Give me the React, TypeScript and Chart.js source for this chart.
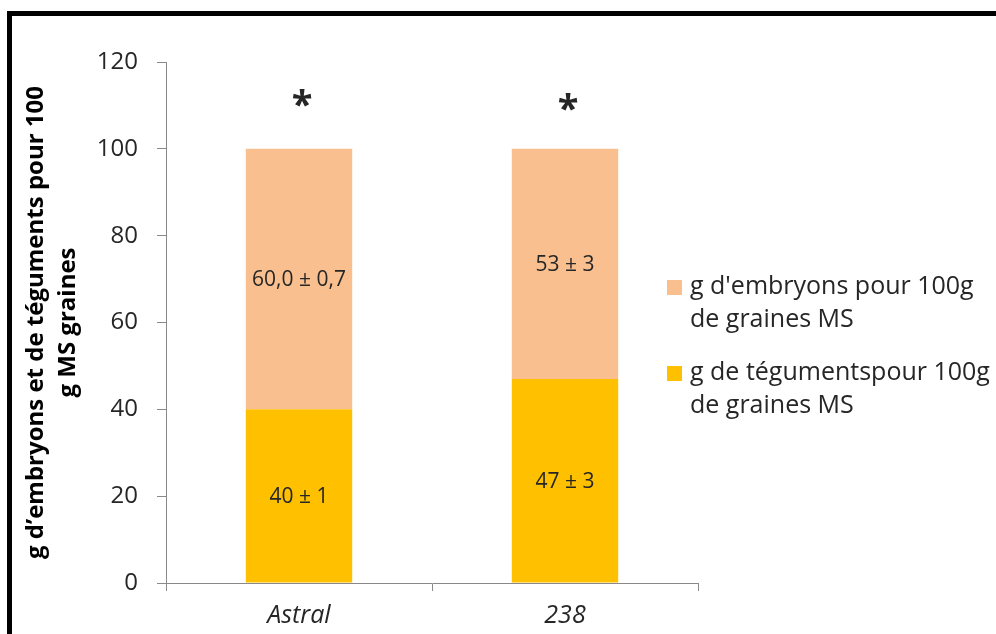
import React, { useEffect, useRef } from "react";
import { Chart, registerables } from "chart.js";

Chart.register(...registerables);

const categories = ["Astral", "238"];
const tegumentValues = [40, 47];
const embryonValues = [60, 53];
const tegumentLabels = ["40 ± 1", "47 ± 3"];
const embryonLabels = ["60,0 ± 0,7", "53 ± 3"];
const significance = ["*", "*"];
const significanceY = [111.7, 110.8];
const legendEmbryon = ["g d'embryons pour 100g", "de graines MS"];
const legendTegument = ["g de tégumentspour 100g", "de graines MS"];
const yTitleLines = ["g d’embryons et de téguments pour 100", "g MS graines"];
const yMin = 0;
const yMax = 120;
const yStep = 20;

const PEACH = "#F9BF8F";
const GOLD = "#FFC000";
const AXIS = "#898989";
const FONT = "'Open Sans', sans-serif";

const overlayPlugin = {
  id: "overlay",
  afterDraw(chart: any) {
    const ctx = chart.ctx as CanvasRenderingContext2D;
    const area = chart.chartArea;
    const yScale = chart.scales.y;
    ctx.save();

    // frame
    ctx.fillStyle = "#000";
    ctx.fillRect(7, 11, 996 - 7, 5);
    ctx.fillRect(7, 11, 5, 634 - 11);

    // value labels inside segments
    ctx.fillStyle = "#262626";
    ctx.font = `21px ${FONT}`;
    ctx.textAlign = "center";
    ctx.textBaseline = "middle";
    chart.data.datasets.forEach((ds: any, di: number) => {
      const meta = chart.getDatasetMeta(di);
      meta.data.forEach((el: any, i: number) => {
        const txt = ds.valueLabels[i];
        const cy = (el.y + el.base) / 2;
        ctx.fillText(txt, el.x, cy + 1);
      });
    });

    // significance stars
    ctx.font = `bold 38px ${FONT}`;
    ctx.textBaseline = "alphabetic";
    const meta0 = chart.getDatasetMeta(0);
    significance.forEach((s, i) => {
      const x = meta0.data[i].x;
      const y = yScale.getPixelForValue(significanceY[i]);
      const m = ctx.measureText(s);
      const off = (m.actualBoundingBoxAscent - m.actualBoundingBoxDescent) / 2;
      ctx.fillText(s, x + 3, y + off);
    });

    // y axis title
    ctx.font = `bold 24px ${FONT}`;
    ctx.fillStyle = "#000";
    ctx.textBaseline = "middle";
    const cy = (area.top + area.bottom) / 2;
    ctx.translate(0, cy);
    ctx.rotate(-Math.PI / 2);
    ctx.fillText(yTitleLines[0], 0, 36);
    ctx.fillText(yTitleLines[1], 0, 68);
    ctx.setTransform(1, 0, 0, 1, 0, 0);

    // legend
    const items = [
      { color: PEACH, lines: legendEmbryon, y: 287 },
      { color: GOLD, lines: legendTegument, y: 373 },
    ];
    ctx.font = `25px ${FONT}`;
    ctx.textAlign = "left";
    ctx.textBaseline = "middle";
    items.forEach((it) => {
      ctx.fillStyle = it.color;
      ctx.fillRect(667, it.y - 7, 15, 15);
      ctx.fillStyle = "#262626";
      it.lines.forEach((ln, k) => {
        ctx.fillText(ln, 690, it.y + k * 33);
      });
    });

    ctx.restore();
  },
};

export default function App() {
  const ref = useRef<HTMLCanvasElement | null>(null);
  useEffect(() => {
    if (!ref.current) return;
    const chart = new Chart(ref.current, {
      type: "bar",
      data: {
        labels: categories,
        datasets: [
          {
            label: "g de téguments pour 100g de graines MS",
            data: tegumentValues,
            backgroundColor: GOLD,
            valueLabels: tegumentLabels,
            barPercentage: 0.4,
            categoryPercentage: 1,
          } as any,
          {
            label: "g d'embryons pour 100g de graines MS",
            data: embryonValues,
            backgroundColor: PEACH,
            valueLabels: embryonLabels,
            barPercentage: 0.4,
            categoryPercentage: 1,
          } as any,
        ],
      },
      options: {
        responsive: false,
        animation: false,
        devicePixelRatio: 1,
        layout: { padding: { left: 0, right: 298, top: 62, bottom: 0 } },
        plugins: {
          legend: { display: false },
          tooltip: { enabled: false },
        },
        scales: {
          x: {
            stacked: true,
            grid: {
              offset: true,
              drawOnChartArea: false,
              tickLength: 8,
              color: AXIS,
            },
            border: { color: AXIS, width: 1 },
            ticks: {
              color: "#262626",
              font: { family: FONT, size: 25, style: "italic" },
              padding: 10,
            },
            afterFit: (s: any) => {
              s.height = 51;
            },
          },
          y: {
            stacked: true,
            min: yMin,
            max: yMax,
            grid: {
              drawOnChartArea: false,
              tickLength: 9,
              color: AXIS,
            },
            border: { color: AXIS, width: 1 },
            ticks: {
              stepSize: yStep,
              color: "#262626",
              font: { family: FONT, size: 24 },
              padding: 19,
            },
            afterFit: (s: any) => {
              s.width = 166;
            },
          },
        },
      },
      plugins: [overlayPlugin],
    } as any);
    return () => chart.destroy();
  }, []);
  return (
    <div style={{ position: "absolute", left: 0, top: 0, width: 996, height: 634, background: "#fff" }}>
      <canvas ref={ref} width={996} height={634} style={{ display: "block" }} />
    </div>
  );
}
